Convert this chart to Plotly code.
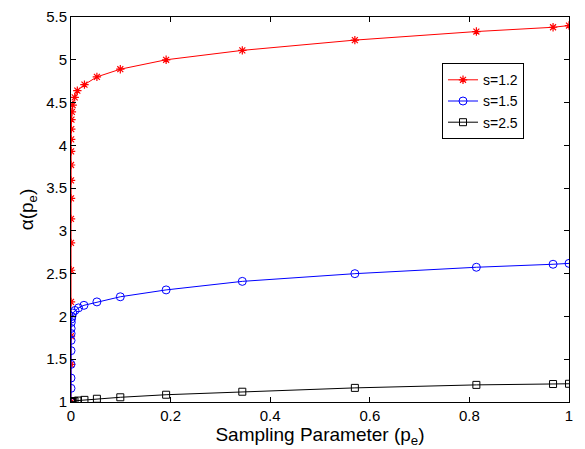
import plotly.graph_objects as go

# s = 1.2
x_s12 = [1.0, 0.968, 0.814, 0.570, 0.344, 0.191, 0.099, 0.052, 0.027, 0.0127, 0.0074,
         0.0034, 0.0018, 0.0009, 0.0005, 0.0003, 0.0002, 0.0001, 0.00006, 0.00004,
         0.00003, 0.00002, 0.00001, 0.000006, 0.000003, 0.000001, 0.0]
y_s12 = [5.40, 5.38, 5.33, 5.23, 5.11, 5.00, 4.89, 4.80, 4.71, 4.64, 4.56,
         4.47, 4.39, 4.30, 4.19, 4.07, 3.93, 3.77, 3.59, 3.38,
         3.14, 2.86, 2.54, 2.17, 1.77, 1.44, 1.00]

# s = 1.5
x_s15 = [1.0, 0.968, 0.814, 0.570, 0.344, 0.191, 0.099, 0.052, 0.026, 0.015, 0.008,
         0.0035, 0.0018, 0.0009, 0.0005, 0.0003, 0.0002, 0.0001, 0.00005, 0.00003,
         0.00002, 0.00001, 0.0]
y_s15 = [2.62, 2.61, 2.575, 2.50, 2.41, 2.31, 2.23, 2.17, 2.13, 2.10, 2.07,
         2.04, 2.00, 1.97, 1.93, 1.86, 1.80, 1.72, 1.60, 1.44,
         1.28, 1.16, 1.00]

# s = 2.5
x_s25 = [1.0, 0.968, 0.814, 0.570, 0.344, 0.191, 0.099, 0.052, 0.027, 0.014, 0.007,
         0.0035, 0.0018, 0.0009, 0.0003, 0.0]
y_s25 = [1.213, 1.21, 1.20, 1.165, 1.12, 1.085, 1.055, 1.038, 1.025, 1.017, 1.01,
         1.006, 1.004, 1.002, 1.001, 1.0]

x_ticks = [0, 0.2, 0.4, 0.6, 0.8, 1]
x_ticklabels = ["0", "0.2", "0.4", "0.6", "0.8", "1"]
y_ticks = [1, 1.5, 2, 2.5, 3, 3.5, 4, 4.5, 5, 5.5]
y_ticklabels = ["1", "1.5", "2", "2.5", "3", "3.5", "4", "4.5", "5", "5.5"]

FONT = "Liberation Sans, Arial, sans-serif"

fig = go.Figure()
fig.add_trace(go.Scatter(x=x_s12, y=y_s12, mode="lines+markers", name="s=1.2",
                         line=dict(color="#ff0000", width=1),
                         marker=dict(symbol="asterisk-open", size=7,
                                     line=dict(color="#ff0000", width=1.2))))
fig.add_trace(go.Scatter(x=x_s15, y=y_s15, mode="lines+markers", name="s=1.5",
                         line=dict(color="#0000ff", width=1),
                         marker=dict(symbol="circle-open", size=8,
                                     line=dict(color="#0000ff", width=1))))
fig.add_trace(go.Scatter(x=x_s25, y=y_s25, mode="lines+markers", name="s=2.5",
                         line=dict(color="#000000", width=1),
                         marker=dict(symbol="square-open", size=7,
                                     line=dict(color="#000000", width=1))))

axis_common = dict(showgrid=False, zeroline=False, showline=True, linecolor="black",
                   linewidth=1, mirror="ticks", ticks="inside", ticklen=5,
                   tickcolor="black", ticklabeloverflow="allow",
                   tickfont=dict(family=FONT, size=15, color="black"))

fig.update_layout(
    width=585, height=449,
    margin=dict(l=71, r=16, t=8, b=47),
    paper_bgcolor="white", plot_bgcolor="white",
    font=dict(family=FONT, color="black"),
    xaxis=dict(range=[0, 1], tickvals=x_ticks, ticktext=x_ticklabels,
               title=dict(text="Sampling Parameter (p<sub>e</sub>)",
                          font=dict(family=FONT, size=19), standoff=0),
               **axis_common),
    yaxis=dict(range=[1, 5.5], tickvals=y_ticks, ticktext=y_ticklabels,
               title=dict(text="α(p<sub>e</sub>)", font=dict(family=FONT, size=19),
                          standoff=7),
               **axis_common),
    legend=dict(x=0.745, y=0.88, xanchor="left", yanchor="top",
                bordercolor="black", borderwidth=1, bgcolor="white",
                font=dict(family=FONT, size=14, color="black"),
                itemwidth=30, tracegroupgap=0),
    showlegend=True,
)

fig.write_html("out.html", config={"displayModeBar": False},
               post_script="document.body.style.margin='0';document.body.style.overflow='hidden';")
